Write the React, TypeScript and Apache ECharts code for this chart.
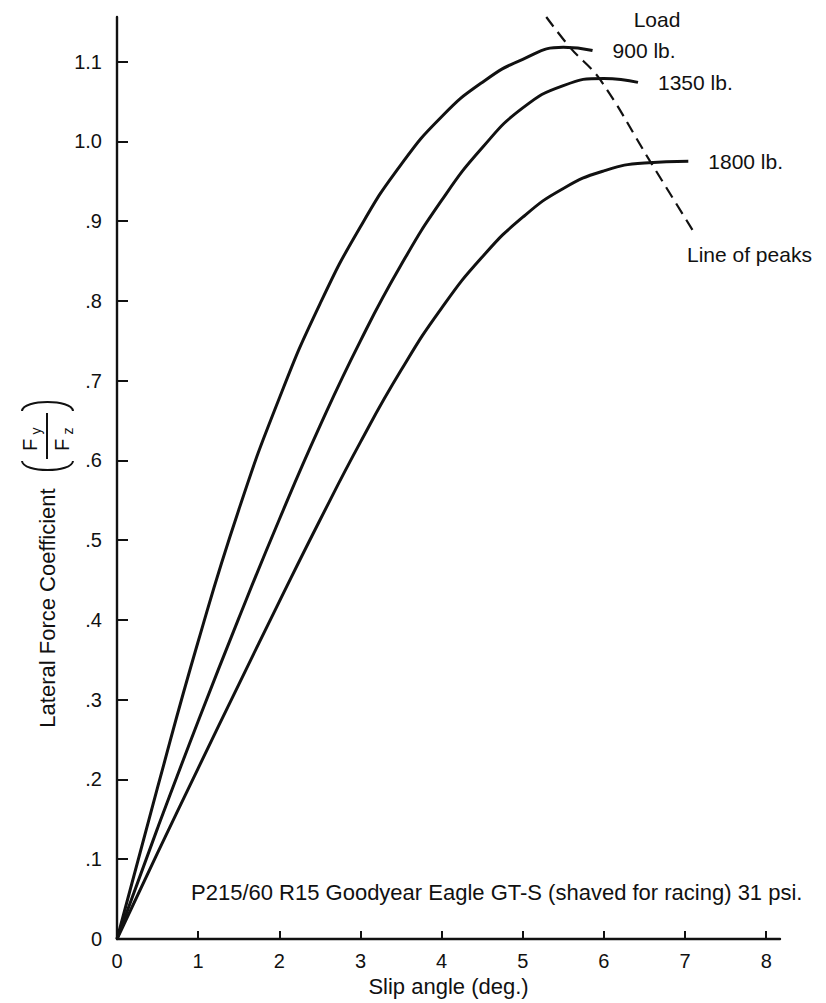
import React, { useEffect, useRef } from "react";
import * as echarts from "echarts";

const FONT = "'Liberation Sans', Arial, Helvetica, sans-serif";
const INK = "#111111";

const xTicks = [0, 1, 2, 3, 4, 5, 6, 7, 8];
const yTicks = [0, 0.1, 0.2, 0.3, 0.4, 0.5, 0.6, 0.7, 0.8, 0.9, 1.0, 1.1];

const loadLabels = ["900 lb.", "1350 lb.", "1800 lb."];

const load900: number[][] = [
  [0, 0], [0.5, 0.19], [1.0, 0.373], [1.5, 0.538], [2.0, 0.678], [2.5, 0.796],
  [3.0, 0.893], [3.5, 0.971], [4.0, 1.031], [4.5, 1.074], [5.0, 1.103],
  [5.5, 1.118], [5.86, 1.114],
];
const load1350: number[][] = [
  [0, 0], [0.5, 0.139], [1.0, 0.273], [1.5, 0.402], [2.0, 0.526], [2.5, 0.643],
  [3.0, 0.75], [3.5, 0.845], [4.0, 0.926], [4.5, 0.992], [5.0, 1.042],
  [5.5, 1.07], [6.0, 1.079], [6.42, 1.074],
];
const load1800: number[][] = [
  [0, 0], [0.5, 0.108], [1.0, 0.214], [1.5, 0.319], [2.0, 0.423], [2.5, 0.525],
  [3.0, 0.623], [3.5, 0.713], [4.0, 0.791], [4.5, 0.855], [5.0, 0.905],
  [5.5, 0.941], [6.0, 0.963], [6.5, 0.973], [7.04, 0.975],
];
const peaks: number[][] = [
  [5.29, 1.156], [5.59, 1.117], [5.95, 1.078], [6.57, 0.975], [7.11, 0.886],
];

const noteText = "P215/60 R15 Goodyear Eagle GT-S (shaved for racing) 31 psi.";
const xName = "Slip angle (deg.)";
const yName = "Lateral Force Coefficient";

function yFmt(v: number): string {
  if (Math.abs(v) < 1e-9) return "0";
  const s = v.toFixed(1);
  return v < 1 ? s.replace(/^0/, "") : s;
}

export default function App() {
  const ref = useRef<HTMLDivElement>(null);
  useEffect(() => {
    document.body.style.margin = "0";
    if (!ref.current) return;
    const chart = echarts.init(ref.current, undefined, { renderer: "svg" });
    const lineSeries = (name: string, data: number[][]) => ({
      type: "line",
      name,
      data,
      showSymbol: false,
      smooth: 0.5,
      lineStyle: { color: INK, width: 3 },
      itemStyle: { color: INK },
      endLabel: {
        show: true,
        formatter: "{a}",
        distance: 20,
        color: INK,
        fontSize: 21,
        fontFamily: FONT,
      },
      z: 3,
    });
    const option: any = {
      animation: false,
      backgroundColor: "#ffffff",
      grid: { left: 117, right: 46, top: 17, bottom: 64, containLabel: false, outerBoundsMode: "none" },
      xAxis: {
        type: "value",
        min: 0,
        max: 8.17,
        interval: 1,
        name: xName,
        nameLocation: "middle",
        nameGap: 36,
        nameTextStyle: { color: INK, fontSize: 22, fontFamily: FONT },
        axisLine: { show: true, lineStyle: { color: INK, width: 2.4 } },
        axisTick: { show: true, inside: true, length: 8, lineStyle: { color: INK, width: 2 }, customValues: xTicks },
        axisLabel: { color: INK, fontSize: 20, fontFamily: FONT, margin: 12, customValues: xTicks, formatter: (v: number) => String(v) },
        splitLine: { show: false },
      },
      yAxis: {
        type: "value",
        min: 0,
        max: 1.156,
        interval: 0.1,
        axisLine: { show: true, lineStyle: { color: INK, width: 2.4 } },
        axisTick: { show: true, inside: true, length: 11, lineStyle: { color: INK, width: 2 }, customValues: yTicks },
        axisLabel: { color: INK, fontSize: 20, fontFamily: FONT, margin: 15, customValues: yTicks, formatter: yFmt },
        splitLine: { show: false },
      },
      series: [
        lineSeries(loadLabels[0], load900),
        lineSeries(loadLabels[1], load1350),
        lineSeries(loadLabels[2], load1800),
        {
          type: "line",
          name: "Line of peaks",
          data: peaks,
          showSymbol: false,
          smooth: 0.4,
          clip: false,
          lineStyle: { color: INK, width: 2.2, type: [12, 7] },
          endLabel: {
            show: true,
            formatter: "{a}",
            distance: 0,
            offset: [-7, 22],
            color: INK,
            fontSize: 21,
            fontFamily: FONT,
          },
          z: 2,
        },
      ],
      graphic: [
        {
          type: "text",
          x: 47,
          y: 608,
          rotation: Math.PI / 2,
          style: { text: yName, fill: INK, fontSize: 22, fontFamily: FONT, align: "center", verticalAlign: "middle" },
        },
        { type: "line", shape: { x1: 47, y1: 413, x2: 47, y2: 459 }, style: { stroke: INK, lineWidth: 2 } },
        {
          type: "text", x: 30, y: 445, rotation: Math.PI / 2,
          style: { text: "F", fill: INK, fontSize: 20, fontFamily: FONT, align: "center", verticalAlign: "middle" },
        },
        {
          type: "text", x: 36, y: 431, rotation: Math.PI / 2,
          style: { text: "y", fill: INK, fontSize: 14, fontFamily: FONT, align: "center", verticalAlign: "middle" },
        },
        {
          type: "text", x: 62, y: 445, rotation: Math.PI / 2,
          style: { text: "F", fill: INK, fontSize: 20, fontFamily: FONT, align: "center", verticalAlign: "middle" },
        },
        {
          type: "text", x: 68, y: 431, rotation: Math.PI / 2,
          style: { text: "z", fill: INK, fontSize: 14, fontFamily: FONT, align: "center", verticalAlign: "middle" },
        },
        {
          type: "bezierCurve",
          shape: { x1: 22, y1: 461, cpx1: 23, cpy1: 473, cpx2: 72, cpy2: 473, x2: 73, y2: 461 },
          style: { stroke: INK, lineWidth: 2, fill: null },
        },
        {
          type: "bezierCurve",
          shape: { x1: 22, y1: 411, cpx1: 23, cpy1: 399, cpx2: 72, cpy2: 399, x2: 73, y2: 411 },
          style: { stroke: INK, lineWidth: 2, fill: null },
        },
        {
          type: "text", x: 657, y: 19,
          style: { text: "Load", fill: INK, fontSize: 21, fontFamily: FONT, align: "center", verticalAlign: "middle" },
        },
        {
          type: "text", x: 191, y: 892,
          style: { text: noteText, fill: INK, fontSize: 22, fontFamily: FONT, align: "left", verticalAlign: "middle" },
        },
      ],
    };
    chart.setOption(option);
    return () => chart.dispose();
  }, []);
  return <div ref={ref} style={{ width: "826px", height: "1003px" }} />;
}
